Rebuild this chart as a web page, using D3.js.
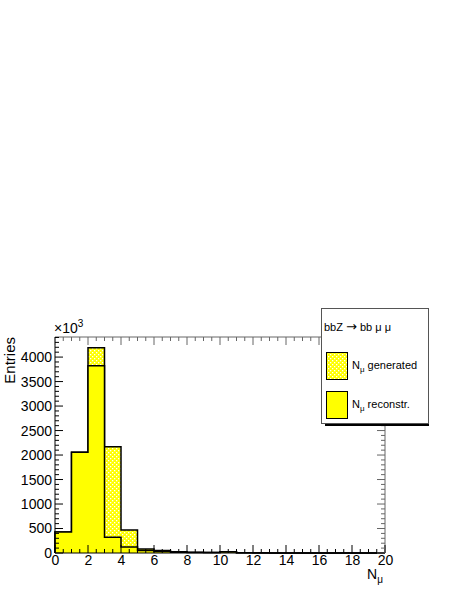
<!DOCTYPE html>
<html><head><meta charset="utf-8">
<script src="https://cdn.jsdelivr.net/npm/d3@7"></script>
<style>body{margin:0;background:#fff}svg{display:block;font-family:"Liberation Sans",Arial,sans-serif}</style>
</head><body><svg id="c" width="463" height="599"></svg>
<script>
const binEdges = d3.range(0, 21);
const generated = [430, 2055, 4190, 2170, 470, 80, 50, 25, 15, 10, 28, 5, 3, 2, 1, 1, 0, 0, 0, 0];
const reconstructed = [430, 2055, 3822, 320, 120, 50, 30, 15, 10, 8, 22, 3, 2, 1, 0, 0, 0, 0, 0, 0];
const xTicks = d3.range(0, 21, 2);
const yTicks = d3.range(0, 4001, 500);
const legendTitle = "bbZ ";

const svg = d3.select("#c");
const L = 55, R = 385, T = 337, B = 553;
const x = d3.scaleLinear().domain([0, 20]).range([L, R]);
const y = d3.scaleLinear().domain([0, 4410]).range([B, T]);

const defs = svg.append("defs");
const pat = defs.append("pattern").attr("id", "hatch").attr("patternUnits", "userSpaceOnUse")
  .attr("width", 4).attr("height", 4);
pat.append("rect").attr("width", 4).attr("height", 4).attr("fill", "#ffff00");
pat.append("rect").attr("x", 0).attr("y", 0).attr("width", 1.3).attr("height", 1.3).attr("fill", "#fff");
pat.append("rect").attr("x", 2).attr("y", 2).attr("width", 1.3).attr("height", 1.3).attr("fill", "#fff");

function stepPath(vals) {
  let p = `M${x(0)},${y(0)}`;
  vals.forEach((v, i) => { p += `L${x(binEdges[i])},${y(v)}L${x(binEdges[i + 1])},${y(v)}`; });
  p += `L${x(20)},${y(0)}`;
  return p;
}
svg.append("path").attr("d", stepPath(generated)).attr("fill", "url(#hatch)").attr("stroke", "none");
svg.append("path").attr("d", stepPath(generated)).attr("fill", "none").attr("stroke", "#000").attr("stroke-width", 1.5);
svg.append("path").attr("d", stepPath(reconstructed)).attr("fill", "#ffff00").attr("stroke", "#000").attr("stroke-width", 1.5);

const ax = svg.append("g").attr("stroke", "#000").attr("stroke-width", 1).attr("fill", "none");
ax.append("line").attr("x1", L).attr("x2", R).attr("y1", B).attr("y2", B);
ax.append("line").attr("x1", L).attr("x2", L).attr("y1", B).attr("y2", T);
ax.append("line").attr("x1", L).attr("x2", R).attr("y1", T).attr("y2", T).attr("stroke", "#666");
ax.append("line").attr("x1", R).attr("x2", R).attr("y1", B).attr("y2", T).attr("stroke", "#666");

d3.range(0, 20.01, 0.5).forEach(v => {
  const major = Math.abs(v / 2 - Math.round(v / 2)) < 1e-6;
  const len = major ? 8 : 4;
  ax.append("line").attr("x1", x(v)).attr("x2", x(v)).attr("y1", B).attr("y2", B - len);
  ax.append("line").attr("x1", x(v)).attr("x2", x(v)).attr("y1", T).attr("y2", T + len).attr("stroke", "#666");
});
d3.range(0, 4401, 100).forEach(v => {
  const major = v % 500 === 0;
  const len = major ? 8 : 4;
  ax.append("line").attr("x1", L).attr("x2", L + len).attr("y1", y(v)).attr("y2", y(v));
  ax.append("line").attr("x1", R).attr("x2", R - len).attr("y1", y(v)).attr("y2", y(v)).attr("stroke", "#666");
});

const xAxis = d3.axisBottom(x).tickValues(xTicks).tickSize(0).tickPadding(2).tickFormat(d3.format("d"));
const gx = svg.append("g").attr("transform", `translate(0,${B})`).call(xAxis);
gx.select(".domain").remove();
gx.selectAll("text").attr("font-size", 14).attr("fill", "#000").attr("font-family", "Liberation Sans, Arial, sans-serif");

const yAxis = d3.axisLeft(y).tickValues(yTicks).tickSize(0).tickPadding(3).tickFormat(d3.format("d"));
const gy = svg.append("g").attr("transform", `translate(${L},0)`).call(yAxis);
gy.select(".domain").remove();
gy.selectAll("text").attr("font-size", 14).attr("fill", "#000").attr("font-family", "Liberation Sans, Arial, sans-serif");

const exp = svg.append("text").attr("x", 54).attr("y", 333).attr("font-size", 14);
exp.append("tspan").text("\u00d710");
exp.append("tspan").attr("dy", -6).attr("font-size", 10).text("3");

svg.append("text").attr("transform", `translate(15,${T}) rotate(-90)`).attr("text-anchor", "end")
  .attr("font-size", 15).text("Entries");
const xt = svg.append("text").attr("x", 383).attr("y", 579).attr("text-anchor", "end").attr("font-size", 14);
xt.append("tspan").text("N");
xt.append("tspan").attr("dy", 4).attr("font-size", 10).text("\u03bc");

const lg = svg.append("g");
lg.append("rect").attr("x", 325).attr("y", 423).attr("width", 104).attr("height", 3).attr("fill", "#000");
lg.append("rect").attr("x", 321.5).attr("y", 308.5).attr("width", 107).attr("height", 115).attr("fill", "#fff")
  .attr("stroke", "#555").attr("stroke-width", 1);
const tt = lg.append("text").attr("x", 324).attr("y", 331).attr("font-size", 11);
tt.append("tspan").text(legendTitle);
tt.append("tspan").attr("font-size", 13).attr("font-family", "DejaVu Sans").text("\u2192");
tt.append("tspan").text(" bb \u03bc \u03bc");
lg.append("rect").attr("x", 326.5).attr("y", 352.5).attr("width", 21).attr("height", 27).attr("fill", "url(#hatch)").attr("stroke", "#000");
lg.append("rect").attr("x", 326.5).attr("y", 391.5).attr("width", 21).attr("height", 27).attr("fill", "#ffff00").attr("stroke", "#000");
const t1 = lg.append("text").attr("x", 352).attr("y", 369).attr("font-size", 11);
t1.append("tspan").text("N");
t1.append("tspan").attr("dy", 3).attr("font-size", 8).text("\u03bc");
t1.append("tspan").attr("dy", -3).text(" generated");
const t2 = lg.append("text").attr("x", 352).attr("y", 408).attr("font-size", 11);
t2.append("tspan").text("N");
t2.append("tspan").attr("dy", 3).attr("font-size", 8).text("\u03bc");
t2.append("tspan").attr("dy", -3).text(" reconstr.");
</script></body></html>
